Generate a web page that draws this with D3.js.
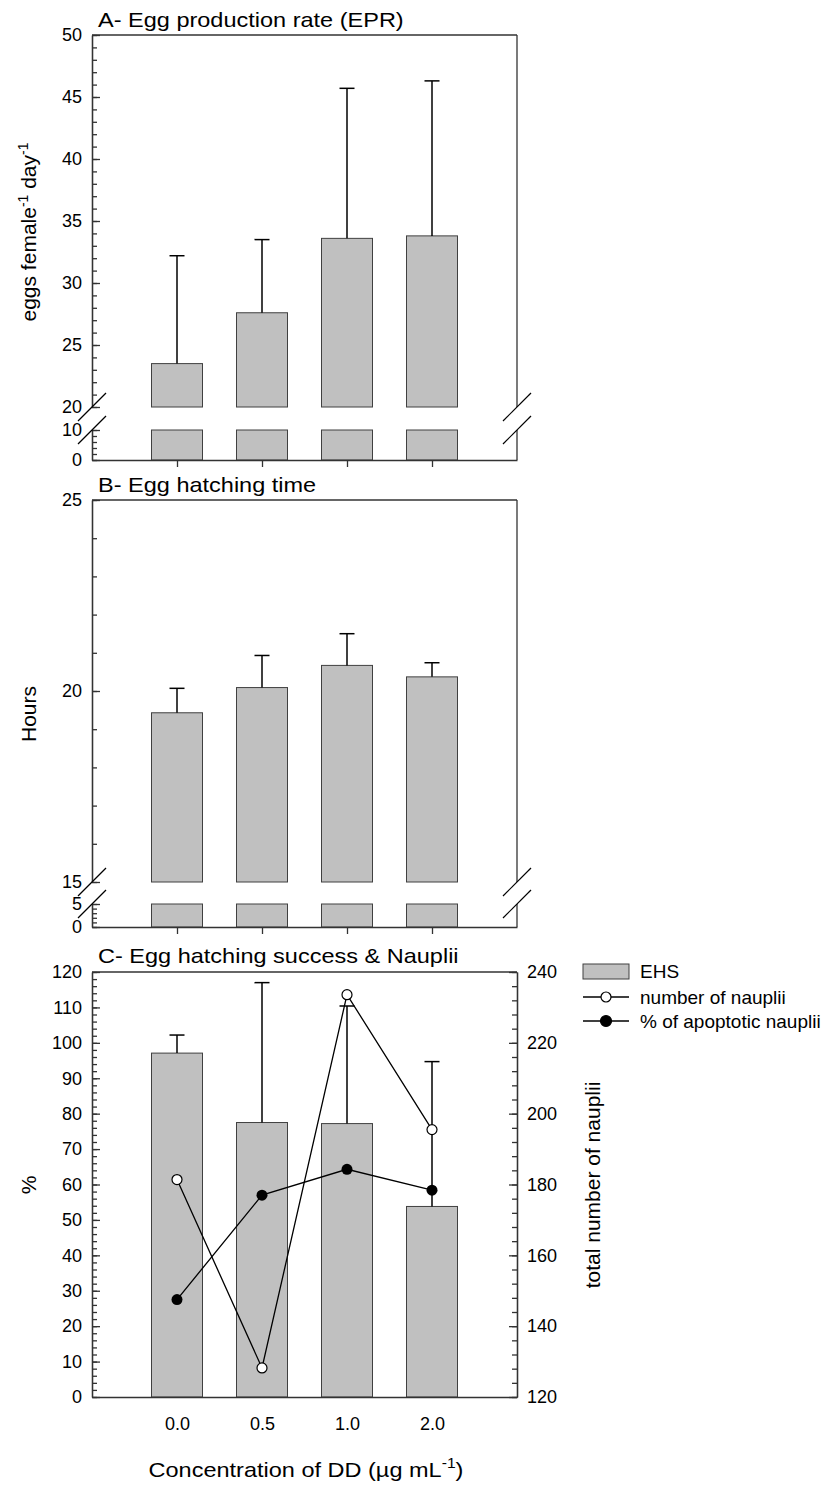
<!DOCTYPE html>
<html>
<head>
<meta charset="utf-8">
<script src="https://cdn.jsdelivr.net/npm/d3@7"></script>
<style>
  body { margin: 0; background: #fff; }
  text { font-family: Arial, "Liberation Sans", sans-serif; fill: #000; }
</style>
</head>
<body>
<svg id="chart" width="830" height="1485"></svg>
<script>
// values
const doses = ["0.0", "0.5", "1.0", "2.0"];
const eprMean = [23.5, 27.6, 33.6, 33.8];
const eprTop = [32.2, 33.5, 45.7, 46.3];
const hatchMean = [19.43, 20.09, 20.67, 20.37];
const hatchTop = [20.07, 20.93, 21.5, 20.74];
const ehsMean = [97.1, 77.5, 77.2, 53.8];
const ehsTop = [102.2, 117.0, 110.4, 94.7];
const naupliiCount = [181.4, 128.2, 233.6, 195.5];
const apoptoticPct = [27.5, 57.0, 64.3, 58.4];

const svg = d3.select("#chart");
const left = 92, right = 517;
const axisColor = "#333";
const stretch = 1.12; // the source text is a little wider than Arial

const x = d3.scalePoint().domain(doses).range([left, right]).padding(1);
const barW = x.step() * 0.6;

function styleAxis(g) {
  g.selectAll("path, line").attr("stroke", axisColor).attr("stroke-width", 1.3);
  g.selectAll("text").style("font-size", "18px").attr("fill", "#000");
}

function leftAxis(y, major, minor, g) {
  g.append("g").attr("transform", `translate(${left},0)`)
    .call(d3.axisLeft(y).tickValues(minor).tickSize(-5).tickSizeOuter(0).tickFormat(""))
    .call(styleAxis);
  g.append("g").attr("transform", `translate(${left},0)`)
    .call(d3.axisLeft(y).tickValues(major).tickSize(-8).tickSizeOuter(0).tickPadding(10).tickFormat(d3.format("d")))
    .call(styleAxis);
}

function slash(g, cx, cy) {
  g.append("line")
    .attr("x1", cx - 14).attr("y1", cy + 14)
    .attr("x2", cx + 14).attr("y2", cy - 14)
    .attr("stroke", "#000").attr("stroke-width", 1.2);
}

function errorBars(g, from, to) {
  const eb = g.append("g").attr("stroke", "#000").attr("stroke-width", 1.5);
  doses.forEach((d, i) => {
    eb.append("line").attr("x1", x(d)).attr("x2", x(d)).attr("y1", from[i]).attr("y2", to[i]);
    eb.append("line").attr("x1", x(d) - 7.5).attr("x2", x(d) + 7.5).attr("y1", to[i]).attr("y2", to[i]);
  });
}

function title(g, y, txt) {
  g.append("text").attr("transform", `translate(98,${y}) scale(${stretch},1)`)
    .style("font-size", "21px").text(txt);
}

function brokenPanel(o) {
  const g = svg.append("g");
  const yUp = d3.scaleLinear().domain(o.upDomain).range([o.cut, o.top]);
  const yLo = d3.scaleLinear().domain(o.loDomain).range([o.bottom, o.resume]);

  // bars, in two pieces either side of the break
  g.selectAll(".barUp").data(o.means).enter().append("rect")
    .attr("x", (d, i) => x(doses[i]) - barW / 2)
    .attr("y", d => yUp(d))
    .attr("width", barW)
    .attr("height", d => o.cut - yUp(d))
    .attr("fill", "#c0c0c0").attr("stroke", "#404040").attr("stroke-width", 1);
  g.selectAll(".barLo").data(o.means).enter().append("rect")
    .attr("x", (d, i) => x(doses[i]) - barW / 2)
    .attr("y", yLo(o.loDomain[1]))
    .attr("width", barW)
    .attr("height", o.bottom - yLo(o.loDomain[1]))
    .attr("fill", "#c0c0c0").attr("stroke", "#404040").attr("stroke-width", 1);

  errorBars(g, o.means.map(yUp), o.tops.map(yUp));

  leftAxis(yUp, o.upMajor, o.upMinor, g);
  leftAxis(yLo, o.loMajor, o.loMinor, g);

  // frame
  const fr = g.append("g").attr("stroke", axisColor).attr("stroke-width", 1.3);
  fr.append("line").attr("x1", left).attr("x2", right).attr("y1", o.top).attr("y2", o.top);
  fr.append("line").attr("x1", right).attr("x2", right).attr("y1", o.top).attr("y2", o.cut);
  fr.append("line").attr("x1", right).attr("x2", right).attr("y1", o.resume).attr("y2", o.bottom);

  g.append("g").attr("transform", `translate(0,${o.bottom})`)
    .call(d3.axisBottom(x).tickSize(7).tickSizeOuter(0).tickFormat(""))
    .call(styleAxis);

  [left, right].forEach(cx => {
    slash(g, cx, o.cut);
    slash(g, cx, o.resume);
  });

  title(g, o.top - 8, o.title);

  const yl = g.append("text")
    .attr("transform", `translate(36,${o.labelY}) rotate(-90)`)
    .attr("text-anchor", "middle").style("font-size", "21px");
  o.label(yl);
}

// A - egg production rate
brokenPanel({
  top: 35, cut: 407, resume: 430, bottom: 460,
  upDomain: [20, 50], loDomain: [0, 10],
  upMajor: d3.range(20, 51, 5), upMinor: d3.range(20, 51, 1),
  loMajor: [0, 10], loMinor: d3.range(0, 11, 2),
  means: eprMean, tops: eprTop,
  title: "A- Egg production rate (EPR)",
  labelY: 232,
  label: t => {
    t.append("tspan").text("eggs female");
    t.append("tspan").attr("dy", -8).style("font-size", "14px").text("-1");
    t.append("tspan").attr("dy", 8).text(" day");
    t.append("tspan").attr("dy", -8).style("font-size", "14px").text("-1");
  }
});

// B - egg hatching time
brokenPanel({
  top: 500, cut: 882, resume: 904, bottom: 927,
  upDomain: [15, 25], loDomain: [0, 5],
  upMajor: [15, 20, 25], upMinor: d3.range(15, 26, 1),
  loMajor: [0, 5], loMinor: d3.range(0, 6, 1),
  means: hatchMean, tops: hatchTop,
  title: "B- Egg hatching time",
  labelY: 714,
  label: t => t.text("Hours")
});

// C - egg hatching success & nauplii
const cTop = 972, cBottom = 1397;
const gC = svg.append("g");
const yPct = d3.scaleLinear().domain([0, 120]).range([cBottom, cTop]);
const yNau = d3.scaleLinear().domain([120, 240]).range([cBottom, cTop]);

gC.selectAll(".ehs").data(ehsMean).enter().append("rect")
  .attr("x", (d, i) => x(doses[i]) - barW / 2)
  .attr("y", d => yPct(d))
  .attr("width", barW)
  .attr("height", d => cBottom - yPct(d))
  .attr("fill", "#c0c0c0").attr("stroke", "#404040").attr("stroke-width", 1);

errorBars(gC, ehsMean.map(yPct), ehsTop.map(yPct));

gC.append("g").attr("transform", `translate(${left},0)`)
  .call(d3.axisLeft(yPct).tickValues(d3.range(0, 121, 2)).tickSize(-5).tickSizeOuter(0).tickFormat(""))
  .call(styleAxis);
gC.append("g").attr("transform", `translate(${left},0)`)
  .call(d3.axisLeft(yPct).tickValues(d3.range(0, 121, 10)).tickSize(-8).tickSizeOuter(0).tickPadding(10))
  .call(styleAxis);
gC.append("g").attr("transform", `translate(${right},0)`)
  .call(d3.axisRight(yNau).tickValues(d3.range(120, 241, 4)).tickSize(-5).tickSizeOuter(0).tickFormat(""))
  .call(styleAxis);
gC.append("g").attr("transform", `translate(${right},0)`)
  .call(d3.axisRight(yNau).tickValues(d3.range(120, 241, 20)).tickSize(-8).tickSizeOuter(0).tickPadding(10))
  .call(styleAxis);
gC.append("line").attr("x1", left).attr("x2", right).attr("y1", cTop).attr("y2", cTop)
  .attr("stroke", axisColor).attr("stroke-width", 1.3);
gC.append("g").attr("transform", `translate(0,${cBottom})`)
  .call(d3.axisBottom(x).tickSize(0).tickSizeOuter(0).tickPadding(20))
  .call(styleAxis);

// lines with markers
const nauLine = d3.line().x((d, i) => x(doses[i])).y(d => yNau(d));
const apoLine = d3.line().x((d, i) => x(doses[i])).y(d => yPct(d));
gC.append("path").datum(naupliiCount).attr("d", nauLine)
  .attr("fill", "none").attr("stroke", "#000").attr("stroke-width", 1.3);
gC.append("path").datum(apoptoticPct).attr("d", apoLine)
  .attr("fill", "none").attr("stroke", "#000").attr("stroke-width", 1.3);
gC.selectAll(".nau").data(naupliiCount).enter().append("circle")
  .attr("cx", (d, i) => x(doses[i])).attr("cy", d => yNau(d)).attr("r", 5)
  .attr("fill", "#fff").attr("stroke", "#000").attr("stroke-width", 1.2);
gC.selectAll(".apo").data(apoptoticPct).enter().append("circle")
  .attr("cx", (d, i) => x(doses[i])).attr("cy", d => yPct(d)).attr("r", 5.5)
  .attr("fill", "#000");

title(gC, cTop - 9, "C- Egg hatching success & Nauplii");
gC.append("text").attr("transform", "translate(36,1185) rotate(-90)")
  .attr("text-anchor", "middle").style("font-size", "21px").text("%");
gC.append("text").attr("transform", "translate(600,1185) rotate(-90)")
  .attr("text-anchor", "middle").style("font-size", "21px").text("total number of nauplii");

const xl = gC.append("text").attr("transform", `translate(306,1477) scale(${stretch},1)`)
  .attr("text-anchor", "middle").style("font-size", "21px");
xl.append("tspan").text("Concentration of DD (µg mL");
xl.append("tspan").attr("dy", -9).style("font-size", "14px").text("-1");
xl.append("tspan").attr("dy", 9).text(")");

// legend
const lg = svg.append("g").attr("transform", "translate(583,0)");
lg.append("rect").attr("x", 0).attr("y", 964).attr("width", 46).attr("height", 15)
  .attr("fill", "#c0c0c0").attr("stroke", "#404040");
lg.append("text").attr("x", 57).attr("y", 978).style("font-size", "19px").text("EHS");
[["number of nauplii", "#fff", 5], ["% of apoptotic nauplii", "#000", 5.5]].forEach(([lab, fill, r], i) => {
  const cy = 997 + i * 24;
  lg.append("line").attr("x1", 0).attr("x2", 46).attr("y1", cy).attr("y2", cy)
    .attr("stroke", "#000").attr("stroke-width", 1.3);
  lg.append("circle").attr("cx", 23).attr("cy", cy).attr("r", r)
    .attr("fill", fill).attr("stroke", "#000").attr("stroke-width", 1.2);
  lg.append("text").attr("x", 57).attr("y", cy + 7).style("font-size", "19px").text(lab);
});
</script>
</body>
</html>
